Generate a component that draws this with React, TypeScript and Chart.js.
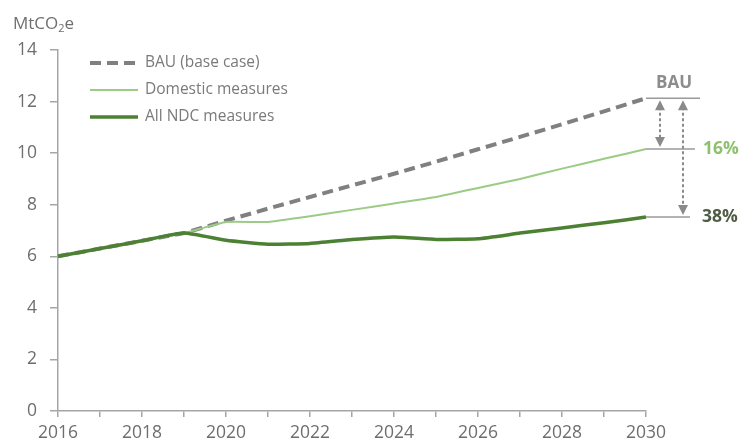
import React, { useEffect, useRef } from "react";
import { Chart, registerables } from "chart.js";

Chart.register(...registerables);

const years = ["2016","2017","2018","2019","2020","2021","2022","2023","2024","2025","2026","2027","2028","2029","2030"];
const bau = [6.0, 6.3, 6.6, 6.9, 7.38, 7.85, 8.3, 8.75, 9.2, 9.67, 10.15, 10.63, 11.12, 11.62, 12.13];
const domestic = [6.0, 6.3, 6.6, 6.9, 7.33, 7.33, 7.55, 7.8, 8.05, 8.3, 8.65, 9.0, 9.4, 9.78, 10.16];
const ndc = [6.0, 6.3, 6.6, 6.9, 6.62, 6.47, 6.5, 6.65, 6.75, 6.65, 6.68, 6.9, 7.1, 7.3, 7.52];
const seriesNames = ["BAU (base case)", "Domestic measures", "All NDC measures"];
const yTicks = [0, 2, 4, 6, 8, 10, 12, 14];
const annotations = ["BAU", "16%", "38%"];

const FONT = "'Open Sans', sans-serif";
const BAU_C = "#808080";
const DOM_C = "#9ccb86";
const NDC_C = "#4c8133";

function arrowHead(ctx: CanvasRenderingContext2D, x: number, y: number, dir: number) {
  ctx.beginPath();
  ctx.moveTo(x, y);
  ctx.lineTo(x - 5, y + dir * 10);
  ctx.lineTo(x + 5, y + dir * 10);
  ctx.closePath();
  ctx.fill();
}

const overlay = {
  id: "overlay",
  afterDraw(chart: any) {
    const ctx: CanvasRenderingContext2D = chart.ctx;
    const xs = chart.scales.x;
    const ys = chart.scales.y;
    ctx.save();
    // unit title
    ctx.fillStyle = "#6f6f6f";
    ctx.textBaseline = "alphabetic";
    ctx.font = `17px ${FONT}`;
    ctx.fillText("MtCO", 13, 29);
    const w = ctx.measureText("MtCO").width;
    ctx.font = `11px ${FONT}`;
    ctx.fillText("2", 13 + w, 32);
    const w2 = ctx.measureText("2").width;
    ctx.font = `17px ${FONT}`;
    ctx.fillText("e", 13 + w + w2, 29);

    // legend
    const ys0 = [63, 90, 117];
    chart.data.datasets.forEach((ds: any, i: number) => {
      ctx.save();
      ctx.strokeStyle = ds.borderColor;
      ctx.lineWidth = ds.borderWidth;
      ctx.setLineDash(ds.borderDash || []);
      ctx.beginPath();
      ctx.moveTo(90, ys0[i]);
      ctx.lineTo(138, ys0[i]);
      ctx.stroke();
      ctx.restore();
      ctx.fillStyle = "#7a7a7a";
      ctx.font = `15.5px ${FONT}`;
      ctx.textBaseline = "middle";
      ctx.fillText(ds.label, 145, ys0[i]);
    });

    // annotations at 2030
    const last = years.length - 1;
    const x0 = xs.getPixelForValue(last);
    const yB = ys.getPixelForValue(bau[last]);
    const yD = ys.getPixelForValue(domestic[last]);
    const yN = ys.getPixelForValue(ndc[last]);
    ctx.strokeStyle = "#9a9a9a";
    ctx.lineWidth = 1.5;
    ctx.setLineDash([]);
    [[yB, 54], [yD, 49], [yN, 44]].forEach(([y, len]) => {
      ctx.beginPath();
      ctx.moveTo(x0, y);
      ctx.lineTo(x0 + len, y);
      ctx.stroke();
    });
    // arrows
    ctx.strokeStyle = "#8a8a8a";
    ctx.fillStyle = "#8a8a8a";
    ctx.lineWidth = 2;
    ctx.setLineDash([3, 2.5]);
    [[x0 + 14, yD], [x0 + 37, yN]].forEach(([ax, yEnd]) => {
      ctx.beginPath();
      ctx.moveTo(ax, yB + 9);
      ctx.lineTo(ax, yEnd - 9);
      ctx.stroke();
    });
    ctx.setLineDash([]);
    arrowHead(ctx, x0 + 14, yB + 2, 1);
    arrowHead(ctx, x0 + 14, yD - 2, -1);
    arrowHead(ctx, x0 + 37, yB + 2, 1);
    arrowHead(ctx, x0 + 37, yN - 2, -1);

    // labels
    ctx.textBaseline = "middle";
    ctx.textAlign = "center";
    ctx.font = `bold 17px ${FONT}`;
    ctx.fillStyle = "#8c8c8c";
    ctx.fillText(annotations[0], x0 + 28, yB - 15);
    ctx.textAlign = "left";
    ctx.font = `bold 17.5px ${FONT}`;
    ctx.fillStyle = "#8fc06f";
    ctx.fillText(annotations[1], x0 + 57, yD);
    ctx.fillStyle = "#4e5e44";
    ctx.fillText(annotations[2], x0 + 56, yN);
    ctx.restore();
  },
};

export default function App() {
  const ref = useRef<HTMLCanvasElement | null>(null);
  useEffect(() => {
    if (!ref.current) return;
    const chart = new Chart(ref.current, {
      type: "line",
      data: {
        labels: years,
        datasets: [
          { label: seriesNames[0], data: bau, borderColor: BAU_C, borderWidth: 4, borderDash: [11, 6], pointRadius: 0, tension: 0, order: 3 },
          { label: seriesNames[1], data: domestic, borderColor: DOM_C, borderWidth: 2, pointRadius: 0, tension: 0.12, order: 2 },
          { label: seriesNames[2], data: ndc, borderColor: NDC_C, borderWidth: 3.5, pointRadius: 0, tension: 0.15, order: 1 },
        ],
      },
      options: {
        animation: false,
        responsive: true,
        maintainAspectRatio: false,
        layout: { padding: { left: 0, right: 98, top: 50, bottom: 0 } },
        plugins: { legend: { display: false }, tooltip: { enabled: false } },
        scales: {
          x: {
            type: "category",
            offset: false,
            border: { color: "#a6a6a6", width: 1.5 },
            grid: { drawOnChartArea: false, drawTicks: true, tickLength: 6, color: "#a6a6a6", lineWidth: 1.5 },
            ticks: {
              autoSkip: false,
              maxRotation: 0,
              padding: 6,
              color: "#6e6e6e",
              font: { family: FONT, size: 17.5 },
              callback: (v: any, i: number) => (i % 2 === 0 ? years[i] : ""),
            },
            afterFit: (s: any) => { s.height = 28; },
          },
          y: {
            min: 0,
            max: 14,
            afterBuildTicks: (s: any) => { s.ticks = yTicks.map((v) => ({ value: v })); },
            border: { color: "#a6a6a6", width: 1.5 },
            grid: { drawOnChartArea: false, drawTicks: true, tickLength: 8, color: "#a6a6a6", lineWidth: 1.5 },
            ticks: { padding: 13, color: "#6e6e6e", font: { family: FONT, size: 17.5 } },
            afterFit: (s: any) => { s.width = 58; },
          },
        },
      },
      plugins: [overlay],
    });
    return () => chart.destroy();
  }, []);
  return (
    <div style={{ position: "absolute", left: 0, top: 0, width: 744, height: 439, background: "#fff" }}>
      <canvas ref={ref} />
    </div>
  );
}
